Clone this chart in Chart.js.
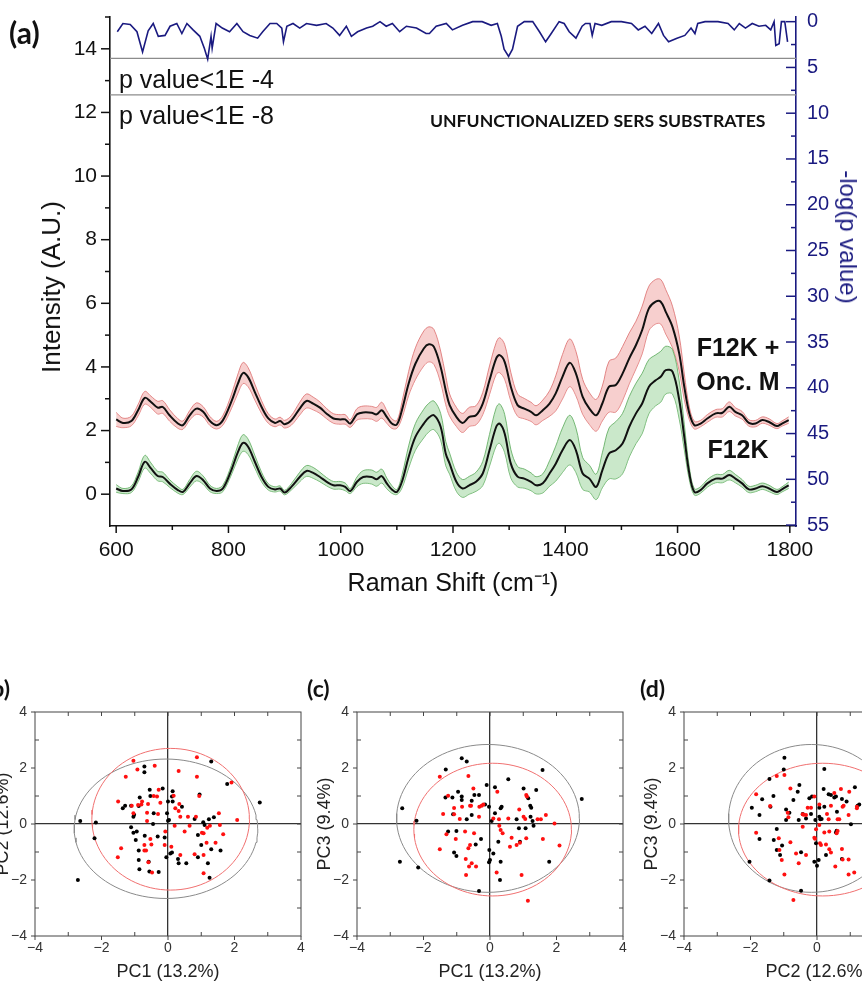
<!DOCTYPE html>
<html><head><meta charset="utf-8">
<script src="https://cdn.jsdelivr.net/npm/chart.js@4.4.1/dist/chart.umd.min.js"></script>
<style>
html,body{margin:0;padding:0;background:#fff;}
body{width:862px;height:982px;position:relative;overflow:hidden;font-family:"Liberation Sans",Arial,sans-serif;}
.abs{position:absolute;white-space:nowrap;line-height:1;}
.lbl{font-family:Lato,"Open Sans",sans-serif;font-weight:700;color:#111;}
.big{font-family:"Liberation Sans",Arial,sans-serif;font-weight:700;color:#111;font-size:25px;transform:translateX(-50%);}
canvas{display:block;}
</style></head><body>
<div class="abs" style="left:0;top:0;width:862px;height:600px"><canvas id="cA" width="862" height="600"></canvas></div>
<div class="abs" style="left:-30px;top:700px;width:340px;height:300px"><canvas id="cB" width="340" height="300"></canvas></div>
<div class="abs" style="left:292px;top:700px;width:340px;height:300px"><canvas id="cC" width="340" height="300"></canvas></div>
<div class="abs" style="left:619px;top:700px;width:340px;height:300px"><canvas id="cD" width="340" height="300"></canvas></div>

<div class="abs lbl" style="left:9px;top:17px;font-size:30px">(a)</div>
<div class="abs" style="left:119px;top:67px;font-size:25px;color:#111">p value&lt;1E -4</div>
<div class="abs" style="left:119px;top:103px;font-size:25px;color:#111">p value&lt;1E -8</div>
<div class="abs lbl" style="left:430px;top:112px;font-size:17.6px">UNFUNCTIONALIZED SERS SUBSTRATES</div>
<div class="abs big" style="left:738px;top:335px">F12K +</div>
<div class="abs big" style="left:738px;top:369px">Onc. M</div>
<div class="abs big" style="left:738px;top:437px">F12K</div>
<div class="abs" style="left:51px;top:287px;font-size:26px;color:#111;transform:translate(-50%,-50%) rotate(-90deg)">Intensity (A.U.)</div>
<div class="abs" style="left:848px;top:237px;font-size:24px;color:#1a1a80;transform:translate(-50%,-50%) rotate(90deg)">-log(p value)</div>
<div class="abs lbl" style="left:-15px;top:677px;font-size:23px">(b)</div>
<div class="abs lbl" style="left:307px;top:677px;font-size:23px">(c)</div>
<div class="abs lbl" style="left:640px;top:677px;font-size:23px">(d)</div>

<script>
// ---------- (a) spectra data ----------
const wn = [600,612,627,639,651,662,674,683,695,710,719,731,743,755,767,779,790,805,817,826,835,847,859,871,883,892,900,912,927,939,951,963,975,987,999,1008,1017,1029,1040,1055,1064,1073,1082,1091,1100,1109,1121,1133,1148,1157,1166,1178,1187,1194,1206,1217,1229,1241,1253,1265,1277,1283,1292,1303,1315,1327,1339,1348,1360,1372,1383,1395,1408,1419,1431,1443,1455,1466,1478,1490,1502,1514,1526,1537,1549,1561,1570,1579,1591,1603,1612,1621,1630,1641,1653,1668,1680,1692,1703,1715,1727,1739,1751,1763,1777,1786,1798];
const meanOnc = [2.35,2.24,2.30,2.64,3.03,2.90,2.72,2.74,2.48,2.22,2.17,2.48,2.69,2.59,2.30,2.17,2.32,2.90,3.48,3.81,3.68,3.21,2.74,2.38,2.24,2.30,2.20,2.32,2.69,2.93,2.85,2.72,2.53,2.38,2.35,2.35,2.22,2.51,2.57,2.56,2.51,2.64,2.43,2.22,2.19,2.64,3.48,4.10,4.58,4.71,4.63,4.00,3.27,2.80,2.43,2.24,2.43,2.48,2.85,3.58,4.27,4.37,4.16,3.38,2.80,2.69,2.59,2.48,2.64,2.85,3.17,3.69,4.13,3.79,3.06,2.69,2.48,2.85,3.38,3.43,3.79,4.27,4.69,5.16,5.84,6.05,6.05,5.73,5.26,4.42,3.38,2.54,2.17,2.22,2.38,2.54,2.56,2.75,2.59,2.48,2.24,2.22,2.33,2.27,2.14,2.22,2.33];
const sdOnc = [0.22,0.15,0.15,0.18,0.2,0.18,0.2,0.2,0.18,0.15,0.13,0.15,0.18,0.16,0.14,0.12,0.15,0.22,0.3,0.33,0.3,0.25,0.2,0.15,0.12,0.12,0.12,0.15,0.2,0.22,0.2,0.18,0.16,0.15,0.15,0.15,0.12,0.18,0.2,0.2,0.22,0.25,0.2,0.15,0.12,0.25,0.38,0.5,0.55,0.55,0.55,0.5,0.45,0.35,0.3,0.3,0.3,0.3,0.35,0.45,0.5,0.55,0.55,0.45,0.35,0.32,0.3,0.3,0.32,0.4,0.55,0.7,0.75,0.7,0.55,0.5,0.5,0.55,0.8,0.85,0.85,0.8,0.75,0.75,0.7,0.7,0.7,0.7,0.65,0.55,0.4,0.2,0.12,0.1,0.12,0.12,0.13,0.15,0.13,0.12,0.1,0.1,0.1,0.1,0.08,0.08,0.1];
const meanF12K = [0.18,0.10,0.15,0.54,1.02,0.81,0.57,0.54,0.34,0.13,0.07,0.34,0.57,0.44,0.18,0.10,0.18,0.75,1.33,1.61,1.49,1.02,0.54,0.23,0.15,0.18,0.05,0.23,0.54,0.73,0.67,0.54,0.39,0.28,0.28,0.23,0.10,0.39,0.54,0.54,0.47,0.57,0.34,0.15,0.07,0.39,1.17,1.80,2.22,2.41,2.48,2.12,1.28,0.96,0.39,0.18,0.28,0.39,0.65,1.38,2.12,2.22,1.91,0.96,0.55,0.49,0.39,0.28,0.34,0.65,0.96,1.38,1.70,1.38,0.65,0.49,0.23,0.75,1.28,1.38,1.59,2.12,2.54,2.85,3.38,3.58,3.69,3.90,3.85,2.96,1.80,0.65,0.07,0.13,0.34,0.49,0.49,0.60,0.49,0.34,0.15,0.18,0.25,0.18,0.07,0.15,0.28];
const sdF12K = [0.12,0.08,0.1,0.15,0.2,0.17,0.15,0.15,0.12,0.1,0.08,0.12,0.15,0.13,0.1,0.08,0.1,0.15,0.22,0.26,0.24,0.2,0.15,0.1,0.08,0.08,0.07,0.1,0.15,0.17,0.17,0.15,0.13,0.12,0.12,0.12,0.08,0.15,0.2,0.22,0.22,0.22,0.17,0.12,0.08,0.2,0.35,0.42,0.45,0.45,0.45,0.42,0.38,0.33,0.3,0.28,0.28,0.3,0.38,0.5,0.6,0.62,0.6,0.45,0.32,0.3,0.28,0.27,0.3,0.4,0.55,0.7,0.78,0.7,0.5,0.42,0.4,0.55,0.8,0.9,0.95,0.95,0.95,0.95,0.85,0.8,0.8,0.75,0.7,0.6,0.4,0.2,0.1,0.1,0.12,0.13,0.13,0.15,0.13,0.12,0.1,0.1,0.1,0.1,0.08,0.08,0.1];
// -log(p value)
const pWn = [602,612,625,637,647,657,666,675,687,696,708,717,726,737,749,757,763,769,771,778,789,802,815,826,838,852,861,874,886,895,898,904,915,927,939,957,974,986,998,1010,1019,1030,1046,1057,1070,1081,1092,1105,1117,1135,1152,1158,1170,1188,1199,1217,1235,1252,1268,1279,1286,1291,1299,1306,1315,1327,1342,1354,1365,1375,1389,1398,1407,1419,1430,1436,1444,1448,1453,1465,1482,1500,1518,1530,1542,1554,1566,1575,1584,1599,1613,1624,1631,1636,1649,1672,1690,1701,1710,1721,1733,1745,1757,1766,1772,1775,1781,1785,1791,1796];
const pVal = [1.1,0.2,0.3,1.1,3.3,1.0,0.2,1.6,1.5,0.5,0.2,1.3,0.2,0.9,1.6,2.9,4.1,1.6,2.9,0.2,0.7,1.1,0.2,1.1,1.5,1.8,1.1,0.2,0.2,0.7,2.2,0.5,0.2,0.7,0.2,0.4,0.2,0.7,1.5,0.5,1.6,1.1,0.7,0.5,0.0,0.5,0.2,1.1,0.5,0.7,1.3,1.3,0.5,0.2,0.9,0.4,0.0,0.0,0.4,0.2,1.6,3.0,3.8,3.0,0.5,0.0,0.0,1.1,2.2,1.3,0.0,0.2,1.1,1.8,0.5,0.2,0.2,1.5,0.2,0.4,0.0,0.0,0.2,0.9,0.5,1.3,0.2,1.5,2.2,1.8,1.5,0.7,1.3,0.2,0.0,0.0,0.2,0.9,0.2,0.7,0.2,0.5,0.4,0.9,0.0,2.6,2.4,0.0,0.0,2.2];
const pThresholds = [4, 8];
// axis tick values
const xTickVals = [600,700,800,900,1000,1100,1200,1300,1400,1500,1600,1700,1800];
const yTickVals = [0,1,2,3,4,5,6,7,8,9,10,11,12,13,14,15];
const y2TickVals = [0,2.5,5,7.5,10,12.5,15,17.5,20,22.5,25,27.5,30,32.5,35,37.5,40,42.5,45,47.5,50,52.5,55];
const xMin = 589, xMax = 1811;

// ---------- (b)(c)(d) PCA scores ----------
const b_black = [[-2.64,0.11],[-2.17,0.05],[-2.21,-0.51],[-2.71,-2.0],[-1.36,0.56],[-1.29,0.65],[-1.04,0.26],[-1.02,0.33],[-1.11,0.65],[-0.71,2.05],[-0.71,1.85],[-0.85,0.95],[-0.88,0.64],[-1.11,-0.12],[-1.04,-0.31],[-0.94,-0.27],[-0.97,-0.57],[-0.88,-0.95],[-0.70,-0.42],[-0.88,-1.29],[-0.86,-1.62],[-0.56,-1.70],[-0.58,-1.35],[-0.28,-1.71],[-0.55,1.22],[-0.43,0.38],[-0.45,0.0],[-0.31,-0.45],[-0.16,1.27],[-0.10,-0.48],[-0.03,0.38],[0.0,0.12],[0.0,0.8],[0.03,0.14],[0.14,1.17],[0.12,0.98],[0.14,0.8],[-0.05,-1.19],[0.07,-1.05],[0.12,-1.02],[0.30,-1.25],[0.32,-1.40],[0.42,0.62],[0.55,-1.40],[0.80,0.18],[0.90,-0.39],[0.90,-1.19],[0.95,1.05],[1.00,-0.75],[1.06,0.06],[1.10,-0.04],[1.20,-1.40],[1.23,0.17],[1.25,-1.92],[1.30,-0.9],[1.38,0.24],[1.58,-0.95],[1.30,2.23],[1.78,1.43],[2.76,0.77],[-0.53,1.0]];
const b_red = [[-1.50,0.8],[-1.27,1.69],[-1.41,-0.87],[-1.51,-1.19],[-1.04,2.26],[-0.92,1.95],[-1.09,0.65],[-1.04,0.38],[-0.78,0.8],[-0.80,0.70],[-0.90,0.68],[-0.60,0.71],[-0.63,0.40],[-0.63,0.11],[-0.71,-0.75],[-0.71,-0.95],[-0.66,-0.95],[-0.53,-0.54],[-0.59,-1.37],[-0.48,-1.73],[-0.50,-0.73],[-0.40,2.08],[-0.43,1.0],[-0.33,0.98],[-0.28,1.22],[-0.23,0.76],[-0.30,0.36],[-0.08,-0.27],[-0.10,-0.75],[0.17,1.01],[0.22,0.56],[0.20,-0.06],[0.10,-0.81],[0.32,1.89],[0.32,0.46],[0.37,0.26],[0.34,0.71],[0.37,-1.11],[0.50,-0.27],[0.65,-0.06],[0.60,0.26],[0.84,0.26],[0.80,-1.08],[0.87,1.69],[0.87,2.38],[0.94,1.0],[1.02,-0.31],[1.07,-0.33],[1.07,-1.11],[1.07,-1.76],[1.16,-0.67],[1.18,-0.13],[1.26,-0.06],[1.43,-0.67],[1.53,0.38],[1.56,-0.04],[1.66,-0.37],[1.91,1.48],[2.08,0.14]];
const c_black = [[-2.64,0.56],[-2.21,0.12],[-2.71,-1.35],[-2.16,-1.55],[-1.34,0.95],[-1.33,1.95],[-0.85,2.35],[-0.70,2.23],[-1.13,0.95],[-1.26,-0.27],[-1.11,0.35],[-1.08,-1.02],[-1.01,-1.14],[-0.96,1.15],[-0.85,0.98],[-0.85,0.86],[-1.01,-0.25],[-0.70,0.17],[-0.55,0.83],[-0.47,1.04],[-0.33,1.04],[-0.55,0.32],[-0.27,-0.54],[-0.43,-0.73],[-0.33,-2.39],[-0.15,0.70],[-0.10,1.39],[-0.03,0.62],[-0.02,-0.93],[-0.03,-1.37],[0.0,-1.29],[0.05,0.11],[0.10,-1.05],[0.15,1.31],[0.15,0.38],[0.32,0.56],[0.35,0.62],[0.25,-0.63],[0.32,-1.35],[0.30,-2.0],[0.55,1.6],[0.80,0.17],[0.87,-0.15],[0.90,-0.63],[1.01,1.27],[1.07,-0.15],[1.15,0.92],[1.21,0.65],[1.24,0.58],[1.22,0.26],[1.28,0.11],[1.31,-0.06],[1.39,1.21],[1.58,1.93],[1.78,-1.35],[2.76,0.89]];
const c_red = [[-1.51,1.69],[-1.41,0.36],[-1.51,-0.9],[-1.26,1.01],[-1.31,-0.37],[-1.08,0.57],[-1.08,0.35],[-0.91,0.18],[-0.84,0.62],[-1.03,-0.54],[-0.75,-0.27],[-0.73,-1.25],[-0.72,-1.82],[-0.65,1.71],[-0.60,0.65],[-0.57,0.65],[-0.60,-0.75],[-0.65,-0.87],[-0.55,-1.40],[-0.63,-1.52],[-0.48,-0.33],[-0.50,1.27],[-0.42,-1.52],[-0.32,0.62],[-0.25,0.65],[-0.20,0.70],[-0.33,0.26],[0.10,0.20],[0.22,1.15],[0.27,0.17],[0.28,-0.06],[0.32,-0.21],[0.38,-0.33],[0.20,-1.73],[0.55,0.20],[0.60,-0.81],[0.65,-0.49],[0.80,-0.75],[0.90,-0.67],[0.88,0.52],[0.95,-1.82],[1.01,0.26],[1.06,0.18],[1.09,1.04],[1.11,0.98],[1.09,-0.51],[1.14,-2.74],[1.43,0.17],[1.53,0.17],[1.59,-0.54],[1.68,0.32],[1.94,0.02],[2.09,-0.77]];
const d_black = [[-2.03,-1.35],[-1.96,0.58],[-1.73,0.32],[-1.73,-0.54],[-1.65,0.88],[-1.43,1.61],[-1.43,-2.02],[-1.40,0.62],[-1.31,1.0],[-1.30,-0.57],[-1.21,-0.18],[-1.21,-0.93],[-1.11,-1.11],[-1.05,-0.77],[-0.98,2.37],[-1.0,1.95],[-0.93,0.52],[-0.93,0.14],[-0.83,0.40],[-0.71,0.86],[-0.58,1.15],[-0.53,1.39],[-0.55,0.14],[-0.48,-2.38],[-0.48,-1.01],[-0.43,0.36],[-0.33,0.20],[-0.23,0.92],[-0.15,0.98],[-0.18,0.36],[-0.08,-1.35],[-0.05,0.14],[-0.03,-0.69],[0.0,-1.49],[0.05,-1.29],[0.07,0.26],[0.07,0.58],[0.10,0.17],[0.14,0.18],[0.20,1.25],[0.22,1.96],[0.22,0.62],[0.27,-1.11],[0.35,1.06],[0.42,1.04],[0.52,0.95],[0.57,0.98],[0.57,-0.30],[0.59,-0.24],[0.60,0.44],[0.75,0.89],[0.75,-1.25],[0.89,0.80],[1.02,-0.01],[1.14,1.31],[1.22,0.65],[1.27,0.70]];
const d_red = [[-1.83,1.06],[-1.83,-0.31],[-1.41,0.64],[-1.21,1.71],[-1.15,-0.51],[-1.13,-0.93],[-1.06,-1.29],[-0.98,-1.80],[-0.98,1.75],[-0.88,0.40],[-0.86,0.24],[-0.80,1.27],[-0.80,-0.65],[-0.63,-1.05],[-0.71,-2.71],[-0.55,-1.40],[-0.43,-0.10],[-0.43,0.35],[-0.40,0.33],[-0.33,0.32],[-0.33,-1.11],[-0.28,0.58],[-0.18,0.58],[-0.08,0.98],[-0.08,-0.49],[-0.06,-0.53],[-0.03,-0.19],[0.07,0.70],[0.07,-0.04],[0.09,-0.69],[0.12,-0.75],[0.22,-0.30],[0.27,-0.73],[0.30,0.36],[0.35,0.17],[0.37,-0.27],[0.37,-0.90],[0.42,-1.02],[0.42,0.65],[0.52,1.11],[0.55,-1.52],[0.59,-0.33],[0.62,-0.25],[0.62,0.17],[0.67,0.17],[0.72,1.25],[0.77,0.62],[0.80,0.65],[0.75,-0.89],[0.77,-1.27],[0.95,0.32],[0.95,-1.27],[0.95,-1.80],[0.97,1.15],[1.12,-1.73],[1.20,0.62],[1.20,0.56]];
// confidence ellipses: [centerX, centerY, radiusX, radiusY]
const ellB_gray = [-0.06,-0.17,2.76,2.49], ellB_red = [0.08,0.17,2.37,2.53];
const ellC_gray = [-0.06,0.20,2.75,2.64], ellC_red = [0.08,-0.20,2.37,2.37];
const ellD_gray = [-0.17,0.20,2.49,2.64], ellD_red = [0.17,-0.20,2.53,2.37];
const pcTickVals = [-4,-3,-2,-1,0,1,2,3,4];

// ---------- helpers ----------
const NAVY = '#1a1a80';
Chart.defaults.font.family = '"Liberation Sans", Arial, sans-serif';
Chart.defaults.color = '#111';

function noPad(s) { s.paddingTop = 0; s.paddingBottom = 0; s.paddingLeft = 0; s.paddingRight = 0; }
function tickDecor(specs, frame) {
  return {
    id: 'tickDecor',
    afterDatasetsDraw(chart) {
      const ctx = chart.ctx, a = chart.chartArea;
      ctx.save();
      if (frame) {
        ctx.strokeStyle = frame.color; ctx.lineWidth = frame.width;
        ctx.strokeRect(a.left, a.top, a.right - a.left, a.bottom - a.top);
      }
      specs.forEach(s => {
        const sc = chart.scales[s.axis];
        ctx.strokeStyle = s.color; ctx.lineWidth = s.width;
        s.values.forEach(v => {
          const len = s.len(v);
          if (!len) return;
          const p = sc.getPixelForValue(v);
          ctx.beginPath();
          if (s.side === 'left') { ctx.moveTo(a.left, p); ctx.lineTo(a.left - len, p); }
          else if (s.side === 'right') { ctx.moveTo(a.right, p); ctx.lineTo(a.right + len, p); }
          else if (s.side === 'bottom') { ctx.moveTo(p, a.bottom); ctx.lineTo(p, a.bottom + len); }
          else { ctx.moveTo(p, a.top); ctx.lineTo(p, a.top - len); }
          ctx.stroke();
        });
      });
      ctx.restore();
    }
  };
}
const pts = (xs, ys) => xs.map((x, i) => ({x, y: ys[i]}));

// ---------- (a) ----------
const onUp = pts(wn, meanOnc.map((m, i) => m + sdOnc[i]));
const onLo = pts(wn, meanOnc.map((m, i) => m - sdOnc[i]));
const fkUp = pts(wn, meanF12K.map((m, i) => m + sdF12K[i]));
const fkLo = pts(wn, meanF12K.map((m, i) => m - sdF12K[i]));
const bandLine = (data, col, order, fill, bg) => ({
  data, borderColor: col, borderWidth: 0.9, pointRadius: 0, tension: 0.35,
  fill: fill === undefined ? false : {target: fill}, backgroundColor: bg || 'transparent', order
});
new Chart(document.getElementById('cA'), {
  type: 'line',
  data: {
    datasets: [
      bandLine(onLo, 'rgba(220,110,110,0.9)', 8),
      bandLine(onUp, 'rgba(220,110,110,0.9)', 7, 0, 'rgba(240,160,158,0.5)'),
      bandLine(fkLo, 'rgba(90,170,90,0.9)', 6),
      bandLine(fkUp, 'rgba(90,170,90,0.9)', 5, 2, 'rgba(150,210,150,0.5)'),
      {data: pts(wn, meanOnc), borderColor: '#111', borderWidth: 2, pointRadius: 0, tension: 0.35, fill: false, order: 4},
      {data: pts(wn, meanF12K), borderColor: '#111', borderWidth: 2, pointRadius: 0, tension: 0.35, fill: false, order: 3},
      {data: pts(pWn, pVal), yAxisID: 'y2', borderColor: NAVY, borderWidth: 1.6, pointRadius: 0, tension: 0, fill: false, order: 0},
      ...pThresholds.map(t => ({data: [{x: xMin, y: t}, {x: xMax, y: t}], yAxisID: 'y2', borderColor: '#8c8c8c', borderWidth: 1.3, pointRadius: 0, fill: false, order: 1}))
    ]
  },
  options: {
    responsive: false, animation: false,
    layout: {padding: {top: 17, left: 0, right: 0, bottom: 0}},
    plugins: {legend: {display: false}, tooltip: {enabled: false}},
    scales: {
      x: {
        type: 'linear', min: xMin, max: xMax,
        afterBuildTicks: ax => { ax.ticks = xTickVals.map(v => ({value: v})); },
        afterFit: s => { s.height = 74; noPad(s); },
        grid: {display: true, drawOnChartArea: false, drawTicks: false},
        border: {display: true, color: '#111', width: 1.6},
        ticks: {font: {size: 21}, color: '#111', padding: 12, maxRotation: 0, autoSkip: false,
                callback: v => (v % 200 === 0 ? String(v) : '')},
        title: {display: true, text: 'Raman Shift (cm\u207B\u00B9)', font: {size: 25}, color: '#111', padding: {top: 0, bottom: 1}}
      },
      y: {
        position: 'left', min: -1, max: 15,
        afterBuildTicks: ax => { ax.ticks = yTickVals.map(v => ({value: v})); },
        afterFit: s => { s.width = 110; noPad(s); },
        grid: {display: true, drawOnChartArea: false, drawTicks: false},
        border: {display: true, color: '#111', width: 1.6},
        ticks: {font: {size: 21}, color: '#111', padding: 13, autoSkip: false,
                callback: v => (v % 2 === 0 && v <= 14 ? String(v) : '')}
      },
      y2: {
        position: 'right', reverse: true, min: -0.51, max: 55.1,
        afterBuildTicks: ax => { ax.ticks = y2TickVals.map(v => ({value: v})); },
        afterFit: s => { s.width = 66; noPad(s); },
        grid: {display: true, drawOnChartArea: false, drawTicks: false},
        border: {display: true, color: NAVY, width: 1.6},
        ticks: {font: {size: 20}, color: NAVY, padding: 11, autoSkip: false,
                callback: v => (v % 5 === 0 ? String(v) : '')}
      }
    }
  },
  plugins: [tickDecor([
    {axis: 'y', side: 'left', values: yTickVals, len: v => (v % 2 === 0 ? 9 : 5), color: '#111', width: 1.5},
    {axis: 'x', side: 'bottom', values: xTickVals, len: v => (v % 200 === 0 ? 7 : 4), color: '#111', width: 1.5},
    {axis: 'y2', side: 'right', values: y2TickVals, len: v => (v % 5 === 0 ? -10 : -5), color: NAVY, width: 1.5}
  ])]
});

// ---------- (b)(c)(d) ----------
function ellipsePts(e) {
  const out = [];
  for (let k = 0; k <= 96; k++) {
    const t = (k / 96) * 2 * Math.PI;
    out.push({x: e[0] + e[2] * Math.cos(t), y: e[1] + e[3] * Math.sin(t)});
  }
  return out;
}
const pcLabel = v => (v % 2 === 0 ? (v < 0 ? '\u2212' + Math.abs(v) : String(v)) : '');
function pcaChart(id, blk, red, eGray, eRed, xTitle, yTitle) {
  const axisCommon = (title, isX) => ({
    type: 'linear', min: -4, max: 4,
    afterBuildTicks: ax => { ax.ticks = pcTickVals.map(v => ({value: v})); },
    afterFit: isX ? (s => { s.height = 64; noPad(s); }) : (s => { s.width = 65; noPad(s); }),
    grid: {display: true, drawTicks: false,
           color: c => (c.tick && c.tick.value === 0 ? '#333' : 'rgba(0,0,0,0)'), lineWidth: 1.3},
    border: {display: false},
    ticks: {font: {size: 14}, color: '#333', padding: isX ? 4 : 8, autoSkip: false, maxRotation: 0, callback: pcLabel},
    title: {display: true, text: title, font: {size: 18}, color: '#222',
            padding: isX ? {top: 0, bottom: 17} : {top: 22, bottom: 0}}
  });
  return new Chart(document.getElementById(id), {
    type: 'scatter',
    data: {
      datasets: [
        {data: blk.map(p => ({x: p[0], y: p[1]})), backgroundColor: '#000', borderColor: '#000', pointRadius: 2, borderWidth: 0, order: 1},
        {data: red.map(p => ({x: p[0], y: p[1]})), backgroundColor: '#ff1010', borderColor: '#ff1010', pointRadius: 2, borderWidth: 0, order: 0},
        {data: ellipsePts(eGray), showLine: true, borderColor: '#8a8a8a', borderWidth: 1, pointRadius: 0, fill: false, tension: 0, order: 3},
        {data: ellipsePts(eRed), showLine: true, borderColor: '#f07070', borderWidth: 1, pointRadius: 0, fill: false, tension: 0, order: 2}
      ]
    },
    options: {
      responsive: false, animation: false,
      layout: {padding: {top: 12, right: 9, left: 0, bottom: 0}},
      plugins: {legend: {display: false}, tooltip: {enabled: false}},
      scales: {x: axisCommon(xTitle, true), y: axisCommon(yTitle, false)}
    },
    plugins: [tickDecor([
      {axis: 'y', side: 'left', values: pcTickVals, len: v => (v % 2 === 0 ? 4 : -4), color: '#444', width: 1},
      {axis: 'x', side: 'bottom', values: pcTickVals, len: v => (v % 2 === 0 ? 4 : -4), color: '#444', width: 1},
      {axis: 'y', side: 'right', values: pcTickVals.filter(v => Math.abs(v) < 4), len: () => -4, color: '#444', width: 1},
      {axis: 'x', side: 'top', values: pcTickVals.filter(v => Math.abs(v) < 4), len: () => -4, color: '#444', width: 1}
    ], {color: '#444', width: 1})]
  });
}
pcaChart('cB', b_black, b_red, ellB_gray, ellB_red, 'PC1 (13.2%)', 'PC2 (12.6%)');
pcaChart('cC', c_black, c_red, ellC_gray, ellC_red, 'PC1 (13.2%)', 'PC3 (9.4%)');
pcaChart('cD', d_black, d_red, ellD_gray, ellD_red, 'PC2 (12.6%)', 'PC3 (9.4%)');
</script>
</body></html>
